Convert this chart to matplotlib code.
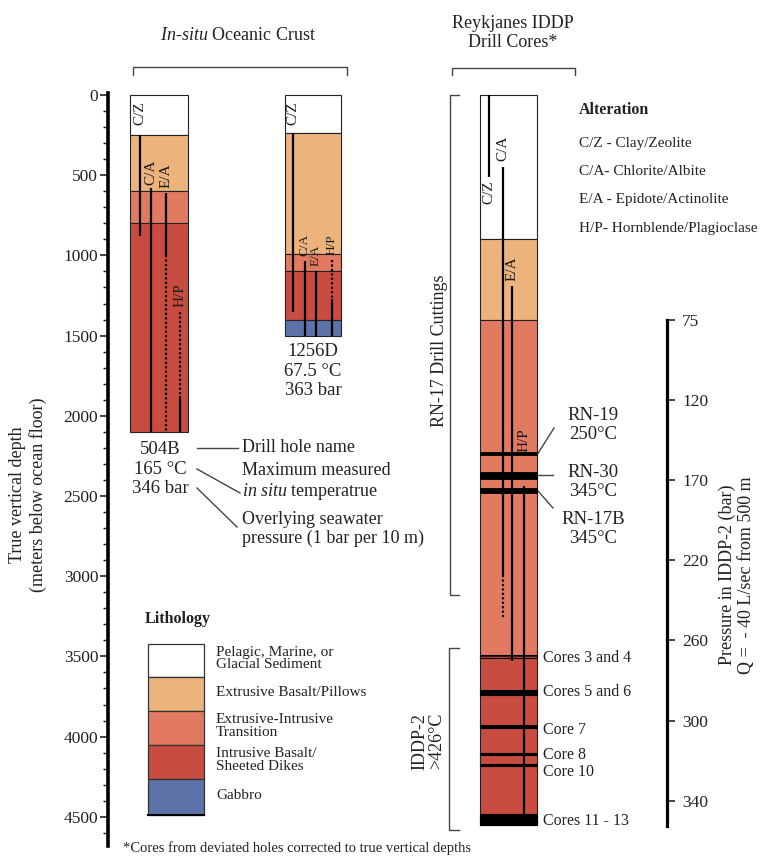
import matplotlib
matplotlib.use('Agg')
import matplotlib.pyplot as plt
from matplotlib.patches import Rectangle

plt.rcParams['font.family'] = 'Liberation Serif'
plt.rcParams['mathtext.fontset'] = 'custom'
plt.rcParams['mathtext.rm'] = 'Liberation Serif'
plt.rcParams['mathtext.it'] = 'Liberation Serif:italic'
plt.rcParams['mathtext.bf'] = 'Liberation Serif:bold'

# lithology
lith_keys = ['sed', 'ext', 'trans', 'int', 'gab']
lith_labels = ['Pelagic, Marine, or\nGlacial Sediment', 'Extrusive Basalt/Pillows',
               'Extrusive-Intrusive\nTransition', 'Intrusive Basalt/\nSheeted Dikes', 'Gabbro']
lith_colors = {'sed': '#ffffff', 'ext': '#ecb47c', 'trans': '#e17a61',
               'int': '#c84c40', 'gab': '#5b73a8'}

# layer boundaries (m below sea floor)
b504_bounds = [0, 250, 600, 800, 2100]
b504_lith = ['sed', 'ext', 'trans', 'int']
d1256_bounds = [0, 240, 990, 1100, 1400, 1500]
d1256_lith = ['sed', 'ext', 'trans', 'int', 'gab']
rn17_bounds = [0, 900, 1400, 3500, 4550]
rn17_lith = ['sed', 'ext', 'trans', 'int']

# alteration zones
alt_names = ['C/Z', 'C/A', 'E/A', 'H/P']
alt_desc = ['C/Z - Clay/Zeolite', 'C/A- Chlorite/Albite', 'E/A - Epidote/Actinolite',
            'H/P- Hornblende/Plagioclase']
b504_solid = [(250, 880), (580, 2100), (610, 1000), (1875, 2100)]
b504_dotted = [None, None, (1000, 2100), (1350, 1875)]
b504_lab = [115, 485, 500, 1245]
d1256_solid = [(240, 1350), (1035, 1500), (1100, 1510), (1270, 1500)]
d1256_dotted = [None, None, None, (1030, 1270)]
d1256_lab = [115, 935, 1000, 935]
rn17_solid = [(0, 510), (447, 2990), (1190, 3530), (2480, 4484)]
rn17_dotted = [None, (2990, 3260), None, (2440, 2480)]
rn17_lab = [605, 330, 1080, 2150]

# feed zones / cores in the Reykjanes holes
feed_names = ['RN-19\n250°C', 'RN-30\n345°C', 'RN-17B\n345°C']
feed_zones = [(2225, 2243), (2348, 2395), (2453, 2484)]
feed_text_depth = [2060, 2415, 2705]
core_names = ['Cores 3 and 4', 'Cores 5 and 6', 'Core 7', 'Core 8', 'Core 10', 'Cores 11 - 13']
core_zones = [(3493, 3510), (3710, 3740), (3926, 3944), (4103, 4117), (4168, 4181), (4484, 4550)]
core_text_depth = [3510, 3722, 3960, 4115, 4220, 4526]

# pressure scale
pressure_bar = [75, 120, 170, 220, 260, 300, 340]
pressure_depth = [1400, 1900, 2400, 2900, 3400, 3900, 4400]

depth_ticks = list(range(0, 4501, 500))


def py(p):
    # pixel row -> depth, for placing layout items
    return (p - 95) / 0.1604


fig = plt.figure(figsize=(7.66, 8.58), dpi=100)
ax = fig.add_axes([0, 0, 1, 1])
ax.set_xlim(0, 766)
ax.set_ylim(py(858), py(0))
ax.xaxis.set_visible(False)
for s in ['top', 'bottom', 'right']:
    ax.spines[s].set_visible(False)
ax.patch.set_visible(False)

# depth axis
ax.spines['left'].set_position(('data', 108))
ax.spines['left'].set_bounds(-15, 4680)
ax.spines['left'].set_linewidth(2.6)
ax.set_yticks(depth_ticks)
ax.set_yticks(range(0, 4700, 100), minor=True)
ax.tick_params(axis='y', which='major', length=6, width=1.2, pad=1, labelsize=12.5, colors='#222222')
ax.tick_params(axis='y', which='minor', length=3.5, width=1.0, colors='#222222')
ax.text(28, py(495), 'True vertical depth\n(meters below ocean floor)', rotation=90,
        ha='center', va='center', fontsize=13, linespacing=1.15, color='#222222')

# pressure axis
ax2 = ax.twinx()
ax2.set_ylim(ax.get_ylim())
for s in ['top', 'bottom', 'left']:
    ax2.spines[s].set_visible(False)
ax2.spines['right'].set_position(('data', 667))
ax2.spines['right'].set_bounds(1400, 4560)
ax2.spines['right'].set_linewidth(2.3)
ax2.set_yticks(pressure_depth, [str(p) for p in pressure_bar])
ax2.tick_params(axis='y', length=6, width=1.2, pad=5, labelsize=12.5, colors='#222222')
ax2.text(737, py(575), 'Pressure in IDDP-2 (bar)\nQ =  - 40 L/sec from 500 m', rotation=90,
         ha='center', va='center', fontsize=13, linespacing=1.15, color='#222222')


def draw_column(x0, w, bounds, liths):
    for top, bot, lith in zip(bounds[:-1], bounds[1:], liths):
        ax.add_patch(Rectangle((x0, top), w, bot - top, facecolor=lith_colors[lith],
                               edgecolor='#222222', lw=0.8))


def draw_alteration(x0, offsets, solid, dotted, lab, fs=(11, 11, 11, 11)):
    for name, dx, s, d, ld, f in zip(alt_names, offsets, solid, dotted, lab, fs):
        ax.plot([x0 + dx] * 2, s, color='black', lw=1.6, solid_capstyle='butt')
        if d:
            ax.plot([x0 + dx] * 2, d, color='black', lw=1.6, ls=(0, (1, 1)))
        ax.text(x0 + dx, ld, name, rotation=90, ha='center', va='center',
                fontsize=f, color='#1a1a1a')


# 504B
draw_column(130, 58, b504_bounds, b504_lith)
draw_alteration(130, [10, 21, 36, 50], b504_solid, b504_dotted, b504_lab)
ax.text(160, py(469), '504B\n165 °C\n346 bar', ha='center', va='center', fontsize=13.5,
        linespacing=1.22, color='#222222')

# 1256D
draw_column(285, 56, d1256_bounds, d1256_lith)
draw_alteration(285, [8, 20, 31, 47], d1256_solid, d1256_dotted, d1256_lab,
                fs=(11, 9.5, 9.5, 9.5))
ax.text(313, py(371), '1256D\n67.5 °C\n363 bar', ha='center', va='center', fontsize=13.5,
        linespacing=1.16, color='#222222')

# explanation of the labels
lc = '#444444'
ax.plot([197, 238], [py(448), py(448)], color=lc, lw=1)
ax.plot([197, 240], [py(469), py(493)], color=lc, lw=1)
ax.plot([197, 237], [py(488), py(527)], color=lc, lw=1)
ax.text(242, py(448), 'Drill hole name', ha='left', va='center', fontsize=13, color='#222222')
ax.text(242, py(482), 'Maximum measured\n$\\mathit{in\\ situ}$ temperatrue', ha='left', va='center',
        fontsize=13, linespacing=1.15, color='#222222')
ax.text(242, py(529), 'Overlying seawater\npressure (1 bar per 10 m)', ha='left', va='center',
        fontsize=13, linespacing=1.1, color='#222222')

# RN-17 / IDDP column
draw_column(480, 57, rn17_bounds, rn17_lith)
draw_alteration(480, [9, 23, 32, 44], rn17_solid, rn17_dotted, rn17_lab)
for (top, bot) in feed_zones:
    ax.add_patch(Rectangle((480, top), 57, bot - top, facecolor='black', edgecolor='black', lw=0.6))
for i, (top, bot) in enumerate(core_zones):
    ax.add_patch(Rectangle((480, top), 57, bot - top, facecolor='black' if i else 'none',
                           edgecolor='black', lw=0.8))

for name, (top, bot), td in zip(feed_names, feed_zones, feed_text_depth):
    ax.text(593, td, name, ha='center', va='center', fontsize=13.5, linespacing=1.15,
            color='#222222')
ax.plot([538, 554], [sum(feed_zones[0]) / 2, py(428)], color=lc, lw=1)
ax.plot([538, 553], [sum(feed_zones[1]) / 2] * 2, color=lc, lw=1)
ax.plot([538, 553], [sum(feed_zones[2]) / 2, py(508)], color=lc, lw=1)

for name, td in zip(core_names, core_text_depth):
    ax.text(543, td, name, ha='left', va='center', fontsize=11.5, color='#222222')

# brackets and group titles
ax.plot([133, 133, 347, 347], [py(75), py(67), py(67), py(75)], color=lc, lw=1)
ax.text(238, py(35), '$\\mathit{In}$-$\\mathit{situ}$ Oceanic Crust', ha='center', va='center',
        fontsize=13, color='#222222')
ax.plot([452, 452, 575, 575], [py(75), py(68), py(68), py(75)], color=lc, lw=1)
ax.text(513, py(33), 'Reykjanes IDDP\nDrill Cores*', ha='center', va='center',
        fontsize=13, linespacing=1.22, color='#222222')

ax.plot([459, 450, 450, 459], [0, 0, 3120, 3120], color=lc, lw=1)
ax.text(440, py(351), 'RN-17 Drill Cuttings', rotation=90, ha='center', va='center',
        fontsize=13, color='#222222')
ax.plot([459, 449, 449, 459], [3447, 3447, 4584, 4584], color=lc, lw=1)
ax.text(428, 4028, 'IDDP-2\n>426°C', rotation=90, ha='center', va='center',
        fontsize=13, linespacing=1.0, color='#222222')

# alteration key
ax.text(579, py(110), 'Alteration', ha='left', va='center', fontsize=11.5,
        fontweight='bold', color='#222222')
for i, t in enumerate(alt_desc):
    ax.text(579, py(143 + 28.5 * i), t, ha='left', va='center', fontsize=11, color='#222222')

# lithology key
ax.text(145, py(619), 'Lithology', ha='left', va='center', fontsize=11.5,
        fontweight='bold', color='#222222')
row_px = [644, 677, 711, 745, 779, 815]
for i, k in enumerate(lith_keys):
    top, bot = py(row_px[i]), py(row_px[i + 1])
    ax.add_patch(Rectangle((148, top), 56, bot - top, facecolor=lith_colors[k],
                           edgecolor='#333333', lw=0.9))
    ax.text(216, (top + bot) / 2 - 12, lith_labels[i], ha='left', va='center',
            fontsize=11, linespacing=0.95, color='#222222')
ax.plot([148, 204], [py(815), py(815)], color='black', lw=1.5)

ax.text(123, py(848), '*Cores from deviated holes corrected to true vertical depths',
        ha='left', va='center', fontsize=10.5, color='#222222')

fig.savefig('out.png', dpi=100)
